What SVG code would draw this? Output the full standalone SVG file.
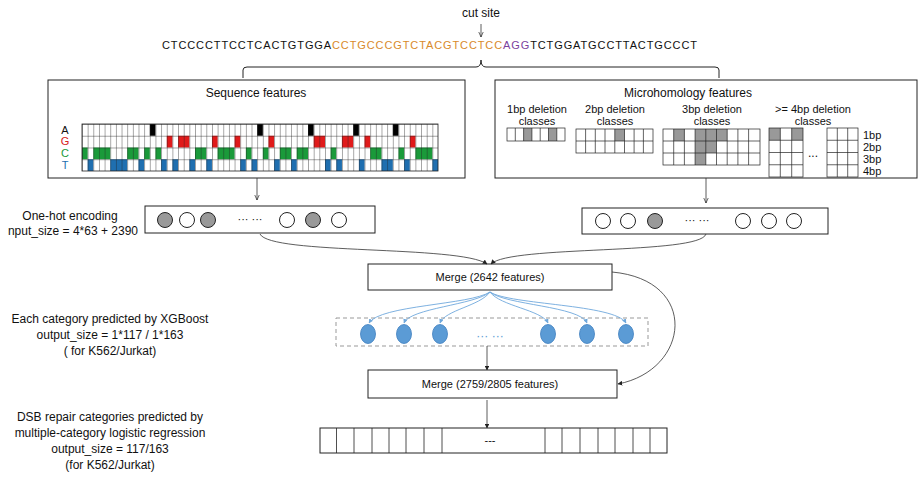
<svg xmlns="http://www.w3.org/2000/svg" width="924" height="485" viewBox="0 0 924 485">
<style>
text{font-family:"Liberation Sans",Arial,sans-serif;font-size:11px;fill:#111}
.lab{font-size:12px}
.box{fill:#fff;stroke:#222;stroke-width:1}
.c{fill:none;stroke:#333;stroke-width:0.8}
.g{fill:#999}
.mh{fill:none;stroke:#222;stroke-width:0.7}
.dot{fill:#fff;stroke:#222;stroke-width:1}
.gd{fill:#999;stroke:#222;stroke-width:1}
.be{fill:#5b9bd5;stroke:#3f7fbf;stroke-width:0.8}
.bl{fill:none;stroke:#6fa8dc;stroke-width:0.9}
</style>
<defs>
<marker id="ar" viewBox="0 0 10 10" refX="9" refY="5" markerWidth="7" markerHeight="7" orient="auto"><path d="M0,1 L9,5 L0,9" fill="none" stroke="#222" stroke-width="1.2"/></marker>
<marker id="af" viewBox="0 0 10 10" refX="9" refY="5" markerWidth="6" markerHeight="6" orient="auto"><path d="M0,0 L10,5 L0,10z" fill="#222"/></marker>
<marker id="ab" viewBox="0 0 10 10" refX="9" refY="5" markerWidth="5" markerHeight="5" orient="auto"><path d="M0,0 L10,5 L0,10z" fill="#6fa8dc"/></marker>
<pattern id="grid" patternUnits="userSpaceOnUse" x="82" y="124" width="5.651" height="11.75"><path d="M0,0 H5.651 M0,0 V11.75" fill="none" stroke="#222" stroke-width="0.8"/></pattern>
</defs>

<g id="sequence">
<text x="481" y="17" text-anchor="middle" class="lab">cut site</text>
<text x="162" y="49" font-size="10.5" textLength="535" lengthAdjust="spacing">CTCCCCTTCCTCACTGTGGA<tspan style="fill:#d98a2b">CCTGCCCGTCTACGTCCTCC</tspan><tspan style="fill:#7b3f9e">AGG</tspan>TCTGGATGCCTTACTGCCCT</text>
</g>

<g id="brace">
<path d="M243,78 V70 Q243,67 247,67 H476 Q481,67 481,60 Q481,67 486,67 H715 Q719,67 719,70 V78" fill="none" stroke="#222" stroke-width="1"/>
</g>

<g id="seqfeat">
<rect class="box" x="48" y="80" width="417" height="98"/>
<text x="256" y="97" text-anchor="middle" class="lab">Sequence features</text>
<text x="65" y="134" text-anchor="middle">A</text>
<text x="65" y="145" text-anchor="middle" style="fill:#d62020">G</text>
<text x="65" y="157" text-anchor="middle" style="fill:#1a9a3a">C</text>
<text x="65" y="169" text-anchor="middle" style="fill:#1f6fb0">T</text>
<g fill="#000">
<rect x="149.8" y="124" width="5.65" height="11.75"/><rect x="257.18" y="124" width="5.65" height="11.75"/><rect x="308" y="124" width="5.65" height="11.75"/><rect x="353.2" y="124" width="5.65" height="11.75"/><rect x="392.8" y="124" width="5.65" height="11.75"/>
</g>
<g fill="#e01a1a">
<rect x="166.77" y="135.75" width="5.65" height="11.75"/><rect x="178.07" y="135.75" width="11.3" height="11.75"/><rect x="211.97" y="135.75" width="5.65" height="11.75"/><rect x="234.58" y="135.75" width="5.65" height="11.75"/><rect x="268.48" y="135.75" width="5.65" height="11.75"/><rect x="313.7" y="135.75" width="11.3" height="11.75"/><rect x="341.9" y="135.75" width="11.3" height="11.75"/><rect x="364.5" y="135.75" width="5.65" height="11.75"/><rect x="409.8" y="135.75" width="5.65" height="11.75"/>
</g>
<g fill="#1a9a3a">
<rect x="82" y="147.5" width="5.65" height="11.75"/><rect x="93.3" y="147.5" width="16.95" height="11.75"/><rect x="127.2" y="147.5" width="11.3" height="11.75"/><rect x="144.16" y="147.5" width="5.65" height="11.75"/><rect x="155.46" y="147.5" width="5.65" height="11.75"/><rect x="195" y="147.5" width="11.3" height="11.75"/><rect x="217.6" y="147.5" width="16.95" height="11.75"/><rect x="245.88" y="147.5" width="5.65" height="11.75"/><rect x="262.8" y="147.5" width="5.65" height="11.75"/><rect x="279.8" y="147.5" width="11.3" height="11.75"/><rect x="296.7" y="147.5" width="11.3" height="11.75"/><rect x="330.6" y="147.5" width="5.65" height="11.75"/><rect x="370.2" y="147.5" width="11.3" height="11.75"/><rect x="398.5" y="147.5" width="5.65" height="11.75"/><rect x="415.4" y="147.5" width="16.95" height="11.75"/>
</g>
<g fill="#1f6fb0">
<rect x="87.65" y="159.25" width="5.65" height="11.75"/><rect x="110.26" y="159.25" width="16.95" height="11.75"/><rect x="138.5" y="159.25" width="5.65" height="11.75"/><rect x="161.1" y="159.25" width="5.65" height="11.75"/><rect x="172.4" y="159.25" width="5.65" height="11.75"/><rect x="189.37" y="159.25" width="5.65" height="11.75"/><rect x="206.3" y="159.25" width="5.65" height="11.75"/><rect x="240.2" y="159.25" width="5.65" height="11.75"/><rect x="251.5" y="159.25" width="5.65" height="11.75"/><rect x="274.1" y="159.25" width="5.65" height="11.75"/><rect x="291.1" y="159.25" width="5.65" height="11.75"/><rect x="325" y="159.25" width="5.65" height="11.75"/><rect x="336.3" y="159.25" width="5.65" height="11.75"/><rect x="358.9" y="159.25" width="5.65" height="11.75"/><rect x="381.5" y="159.25" width="11.3" height="11.75"/><rect x="404.1" y="159.25" width="5.65" height="11.75"/><rect x="432.4" y="159.25" width="5.65" height="11.75"/>
</g>
<rect x="82" y="124" width="356" height="47" fill="url(#grid)" stroke="#222" stroke-width="0.8"/>
</g>

<g id="mhfeat">
<rect class="box" x="495" y="80" width="422" height="98"/>
<text x="688" y="97" text-anchor="middle" class="lab">Microhomology features</text>
<g text-anchor="middle">
<text x="537" y="113" font-size="9.5">1bp deletion</text><text x="537" y="125" font-size="9.5">classes</text>
<text x="615" y="113" font-size="9.5">2bp deletion</text><text x="615" y="125" font-size="9.5">classes</text>
<text x="712" y="113" font-size="9.5">3bp deletion</text><text x="712" y="125" font-size="9.5">classes</text>
<text x="813" y="113" font-size="9.5">&gt;= 4bp deletion</text><text x="813" y="125" font-size="9.5">classes</text>
</g>
<g class="g">
<rect x="523.6" y="128" width="8.3" height="13"/><rect x="548.5" y="128" width="8.3" height="13"/>
<rect x="614.8" y="129" width="9.7" height="12"/>
<rect x="673.7" y="129" width="10.7" height="12"/><rect x="695.1" y="129" width="32.1" height="12"/><rect x="695.1" y="141" width="21.4" height="12"/><rect x="695.1" y="153" width="10.7" height="12"/>
<rect x="769" y="128" width="11.3" height="12.25"/><rect x="791.7" y="128" width="11.3" height="12.25"/>
</g>
<g class="mh">
<rect x="507" y="128" width="58" height="13"/>
<path d="M515.3,128V141M523.6,128V141M531.9,128V141M540.2,128V141M548.5,128V141M556.8,128V141"/>
<rect x="576" y="129" width="77" height="24"/>
<path d="M576,141H653M585.6,129V153M595.3,129V153M605,129V153M614.8,129V153M624.5,129V153M634.1,129V153M643.4,129V153"/>
<rect x="663" y="129" width="97" height="36"/>
<path d="M663,141H760M663,153H760M673.7,129V165M684.4,129V165M695.1,129V165M705.8,129V165M716.5,129V165M727.2,129V165M737.9,129V165M748.6,129V165"/>
<rect x="769" y="128" width="34" height="49"/>
<path d="M769,140.25H803M769,152.5H803M769,164.75H803M780.3,128V177M791.7,128V177"/>
<rect x="827" y="128" width="31" height="49"/>
<path d="M827,140.25H858M827,152.5H858M827,164.75H858M837.3,128V177M847.7,128V177"/>
</g>
<text x="813" y="157" text-anchor="middle" class="lab">...</text>
<g><text x="863" y="139" font-size="10">1bp</text><text x="863" y="151" font-size="10">2bp</text><text x="863" y="163" font-size="10">3bp</text><text x="863" y="175" font-size="10">4bp</text></g>
</g>

<g id="enc-left">
<text x="70" y="220" text-anchor="middle" class="lab">One-hot encoding</text>
<text x="138" y="235" text-anchor="end" class="lab">nput_size = 4*63 + 2390</text>
<rect class="box" x="145" y="206" width="230" height="27"/>
<circle class="gd" cx="165" cy="220" r="7.5"/><circle class="dot" cx="187" cy="220" r="7.5"/><circle class="gd" cx="208" cy="220" r="7.5"/>
<text x="250" y="223" text-anchor="middle">··· ···</text>
<circle class="dot" cx="287" cy="220" r="7.5"/><circle class="gd" cx="313" cy="220" r="7.5"/><circle class="dot" cx="339" cy="220" r="7.5"/>
</g>

<g id="enc-right">
<rect class="box" x="582" y="208" width="246" height="26"/>
<circle class="dot" cx="603" cy="221" r="7.5"/><circle class="dot" cx="628" cy="221" r="7.5"/><circle class="gd" cx="655" cy="221" r="7.5"/>
<text x="697" y="224" text-anchor="middle">··· ···</text>
<circle class="dot" cx="743" cy="221" r="7.5"/><circle class="dot" cx="769" cy="221" r="7.5"/><circle class="dot" cx="794" cy="221" r="7.5"/>
</g>

<g id="merge1">
<rect class="box" x="368" y="264" width="244" height="26"/>
<text x="490" y="281" text-anchor="middle" font-size="10.5">Merge (2642 features)</text>
</g>

<g id="xgb">
<text x="110" y="323" text-anchor="middle" class="lab">Each category predicted by XGBoost</text>
<text x="110" y="339" text-anchor="middle" class="lab">output_size = 1*117 / 1*163</text>
<text x="110" y="355" text-anchor="middle" class="lab">( for K562/Jurkat)</text>
<rect x="336" y="318" width="312" height="28" fill="none" stroke="#999" stroke-width="1" stroke-dasharray="4,3"/>
<ellipse class="be" cx="368" cy="334" rx="7.5" ry="9.5"/><ellipse class="be" cx="404" cy="334" rx="7.5" ry="9.5"/><ellipse class="be" cx="440" cy="334" rx="7.5" ry="9.5"/>
<text x="490" y="340" text-anchor="middle" style="fill:#5b9bd5" class="lab">··· ···</text>
<ellipse class="be" cx="548" cy="334" rx="7.5" ry="9.5"/><ellipse class="be" cx="587" cy="334" rx="7.5" ry="9.5"/><ellipse class="be" cx="626" cy="334" rx="7.5" ry="9.5"/>
</g>

<g id="merge2">
<rect class="box" x="368" y="370" width="249" height="28"/>
<text x="490" y="388" text-anchor="middle" font-size="10.5">Merge (2759/2805 features)</text>
</g>

<g id="output">
<text x="110" y="421" text-anchor="middle" class="lab">DSB repair categories predicted by</text>
<text x="110" y="437" text-anchor="middle" class="lab">multiple-category logistic regression</text>
<text x="110" y="453" text-anchor="middle" class="lab">output_size = 117/163</text>
<text x="110" y="469" text-anchor="middle" class="lab">(for K562/Jurkat)</text>
<rect class="box" x="320" y="428" width="347" height="25"/>
<path d="M336.5,428V453M354,428V453M372,428V453M389,428V453M406,428V453M424,428V453M442,428V453M545,428V453M562,428V453M580,428V453M598,428V453M615,428V453M633,428V453M650,428V453" stroke="#222" stroke-width="0.8"/>
<text x="490" y="444" text-anchor="middle" font-size="9">---</text>
</g>

<g id="connectors">
<path class="c" d="M481,24 V37" marker-end="url(#ar)"/>
<path class="c" d="M257,178 V200" marker-end="url(#ar)"/>
<path class="c" d="M706,178 V203" marker-end="url(#ar)"/>
<path class="c" d="M260,234 C270,255 460,245 487,264" marker-end="url(#af)"/>
<path class="c" d="M706,234 C700,255 510,245 491,264" marker-end="url(#af)"/>
<path class="c" d="M612,272 C700,280 690,370 618,384" marker-end="url(#af)"/>
<path class="c" d="M487,346 V370" marker-end="url(#af)"/>
<path class="c" d="M487,400 V428" marker-end="url(#af)"/>
<g>
<path class="bl" d="M490,292 C470,305 380,305 369,323" marker-end="url(#ab)"/>
<path class="bl" d="M490,292 C475,305 410,308 404,323" marker-end="url(#ab)"/>
<path class="bl" d="M490,292 C480,306 445,310 440,323" marker-end="url(#ab)"/>
<path class="bl" d="M490,292 C500,306 542,310 548,323" marker-end="url(#ab)"/>
<path class="bl" d="M490,292 C505,305 580,306 587,323" marker-end="url(#ab)"/>
<path class="bl" d="M490,292 C510,305 615,304 626,323" marker-end="url(#ab)"/>
</g>
</g>
</svg>
